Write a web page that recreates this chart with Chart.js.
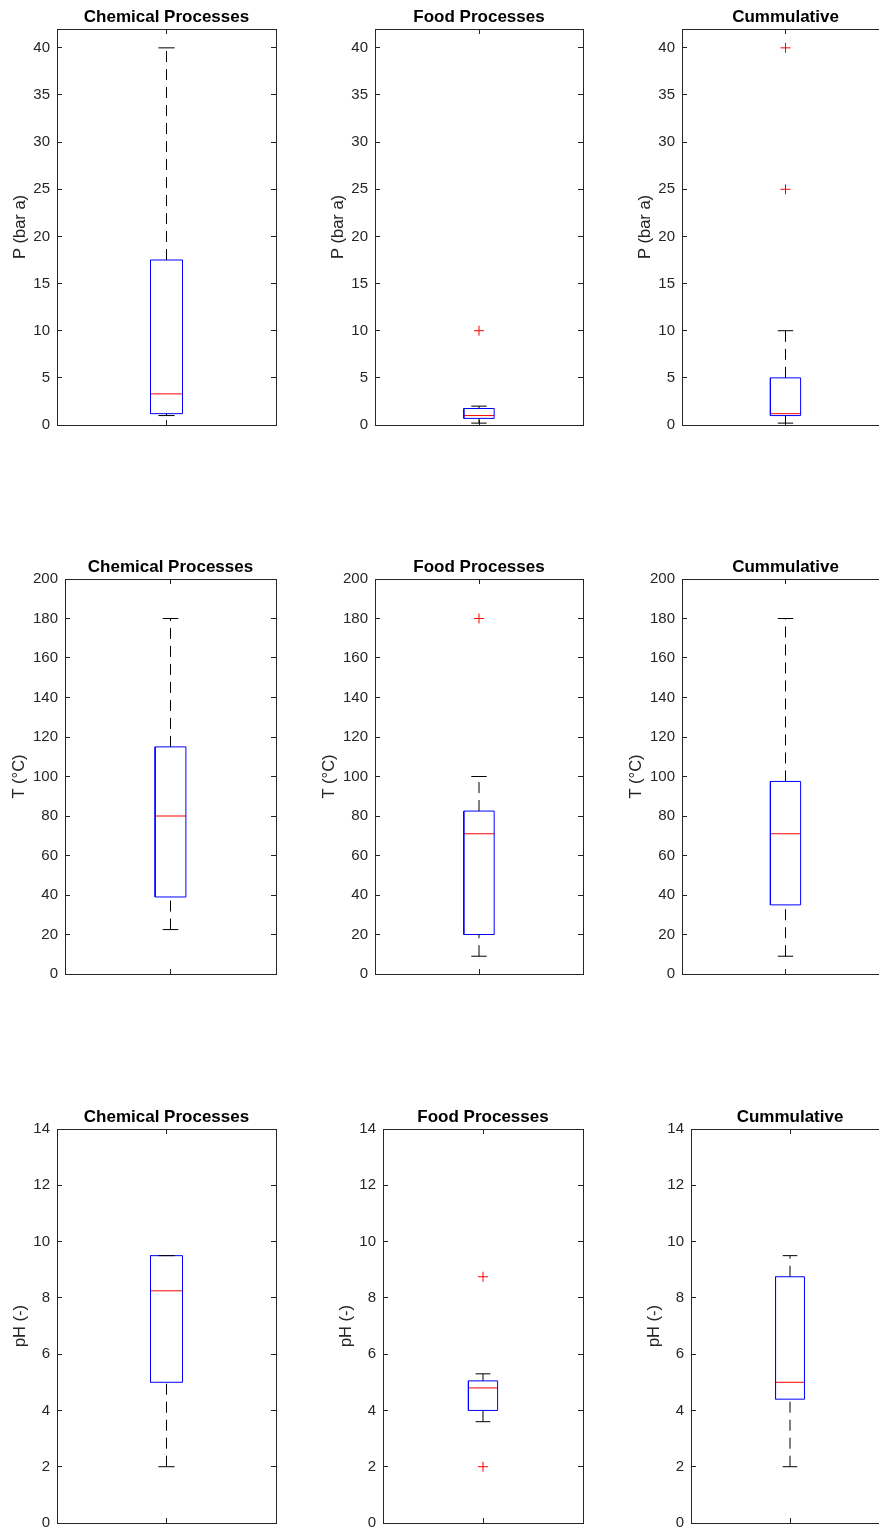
<!DOCTYPE html>
<html>
<head>
<meta charset="utf-8">
<script src="https://cdn.jsdelivr.net/npm/chart.js@4.4.0/dist/chart.umd.min.js"></script>
<style>
  html, body { margin: 0; padding: 0; background: #fff; }
  body { width: 879px; height: 1532px; overflow: hidden; position: relative; }
  canvas { position: absolute; }
</style>
</head>
<body>
<script>
// ── Data ─────────────────────────────────────────────────────
const groups = ['Chemical Processes', 'Food Processes', 'Cummulative'];

// each box: [lower whisker, q1, median, q3, upper whisker]
const pressureBoxes    = [[1.0, 1.2, 3.3, 17.5, 40], [0.2, 0.7, 1.0, 1.75, 2.0], [0.2, 1.0, 1.2, 5.0, 10]];
const pressureOutliers = [[], [10], [40, 25]];
const pressureTicks    = { max: 42, step: 5 };

const tempBoxes    = [[22.5, 39, 80, 115, 180], [9, 20, 71, 82.5, 100], [9, 35, 71, 97.5, 180]];
const tempOutliers = [[], [180], []];
const tempTicks    = { max: 200, step: 20 };

const phBoxes    = [[2, 5, 8.25, 9.5, 9.5], [3.6, 4.0, 4.8, 5.05, 5.3], [2, 4.4, 5.0, 8.75, 9.5]];
const phOutliers = [[], [8.75, 2], []];
const phTicks    = { max: 14, step: 2 };

const quantities = [
  { label: 'P (bar a)', boxes: pressureBoxes, outliers: pressureOutliers, ticks: pressureTicks },
  { label: 'T (°C)',    boxes: tempBoxes,     outliers: tempOutliers,     ticks: tempTicks },
  { label: 'pH (-)',    boxes: phBoxes,       outliers: phOutliers,       ticks: phTicks },
];

// ── Layout (axes boxes, px) ──────────────────────────────────
const rowTop    = [29, 579, 1129];
const rowBottom = [426, 975, 1524];
const colRight  = [276, 583, 889];
const axLeft    = [[57, 375, 682], [65, 375, 682], [57, 383, 691]];
const labelGap  = [37, 46, 37];

const Y_W = 70, TITLE_H = 40, PAD_R = 10, PAD_B = 20;
const BOX_HALF = 0.073, CAP_HALF = 0.037;
const AXIS = '#262626';
const FONT = 'Liberation Sans, Arial, Helvetica, sans-serif';

Chart.defaults.font.family = FONT;

const seg = (x0, y0, x1, y1) => [{ x: x0, y: y0 }, { x: x1, y: y1 }];
const line = (data, color, dash) => ({
  type: 'line', data, showLine: true, borderColor: color, borderWidth: 1,
  borderDash: dash || [], pointRadius: 0, fill: false, tension: 0,
});

function makeChart(r, c) {
  const q = quantities[r];
  const [lo, q1, med, q3, hi] = q.boxes[c];
  const left = axLeft[r][c], top = rowTop[r];
  const w = colRight[c] - left, h = rowBottom[r] - top;

  const canvas = document.createElement('canvas');
  canvas.width = Y_W + w + PAD_R;
  canvas.height = TITLE_H + h + PAD_B;
  canvas.style.left = (left - Y_W) + 'px';
  canvas.style.top = (top - TITLE_H) + 'px';
  document.body.appendChild(canvas);

  const datasets = [
    line(seg(1, q3, 1, hi), '#000', [11, 7]),
    line(seg(1, lo, 1, q1), '#000', [11, 7]),
    line(seg(1 - CAP_HALF, hi, 1 + CAP_HALF, hi), '#000'),
    line(seg(1 - CAP_HALF, lo, 1 + CAP_HALF, lo), '#000'),
    line([
      { x: 1 - BOX_HALF, y: q1 }, { x: 1 + BOX_HALF, y: q1 },
      { x: 1 + BOX_HALF, y: q3 }, { x: 1 - BOX_HALF, y: q3 },
      { x: 1 - BOX_HALF, y: q1 },
    ], '#0000ff'),
    line(seg(1 - BOX_HALF, med, 1 + BOX_HALF, med), '#ff0000'),
    {
      type: 'scatter', data: q.outliers[c].map(v => ({ x: 1, y: v })),
      pointStyle: 'cross', pointRadius: 5, borderColor: '#ff0000', borderWidth: 1,
    },
  ];

  const edge = { display: true, color: AXIS, width: 1 };
  const tickGrid = { drawOnChartArea: false, color: AXIS, tickLength: -5 };
  const xAxis = pos => ({
    type: 'linear', position: pos, min: 0.5, max: 1.5,
    afterBuildTicks: s => { s.ticks = [{ value: 1 }]; },
    ticks: { display: false }, grid: tickGrid, border: edge,
    afterFit: s => { s.height = 0; },
  });

  new Chart(canvas, {
    type: 'scatter',
    data: { datasets },
    options: {
      responsive: false,
      animation: false,
      devicePixelRatio: 1,
      layout: { padding: { left: 0, top: 0, right: PAD_R, bottom: PAD_B } },
      plugins: {
        legend: { display: false },
        tooltip: { enabled: false },
        title: {
          display: true, text: groups[c], fullSize: false, color: '#000',
          font: { size: 17, weight: 'bold' }, padding: { top: 18.5, bottom: 1.1 },
        },
      },
      scales: {
        x: xAxis('bottom'),
        x2: xAxis('top'),
        y: {
          type: 'linear', position: 'left', min: 0, max: q.ticks.max,
          ticks: { stepSize: q.ticks.step, includeBounds: false, padding: 12, color: AXIS, font: { size: 15 } },
          grid: tickGrid, border: edge,
          title: {
            display: true, text: q.label, color: AXIS, font: { size: 16.5 },
            padding: { top: Y_W - labelGap[r] - 9.9, bottom: 0 },
          },
          afterFit: s => { s.width = Y_W; },
        },
        y2: {
          type: 'linear', position: 'right', min: 0, max: q.ticks.max,
          ticks: { stepSize: q.ticks.step, includeBounds: false, display: false },
          grid: tickGrid, border: edge,
          afterFit: s => { s.width = 0; },
        },
      },
    },
  });
}

for (let r = 0; r < 3; r++) {
  for (let c = 0; c < 3; c++) makeChart(r, c);
}
</script>
</body>
</html>
